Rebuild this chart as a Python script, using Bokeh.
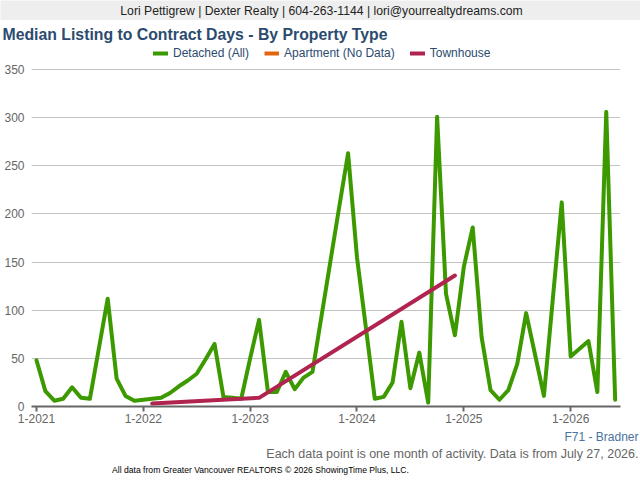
from bokeh.plotting import figure
from bokeh.models import Range1d, FixedTicker, Label, Legend, LegendItem
from bokeh.layouts import column
from bokeh.embed import file_html
from bokeh.resources import INLINE
import pandas as pd

# ---------------- data ----------------
start_month = "2021-01"
detached_days = [48, 16, 6, 8, 20, 9, 8, 60, 112, 29, 11, 6,
                 7, 8, 9, 14, 21, 27, 34, 49, 65, 10, 9, 8,
                 50, 90, 15, 15, 36, 18, 30, 36, 93, 150, 207, 263,
                 155, 82, 8, 10, 25, 88, 19, 56, 4, 301, 117, 74,
                 145, 186, 72, 17, 7, 17, 44, 97, 54, 11, 112, 212,
                 52, 60, 68, 15, 306, 7]
townhouse_months = ["2022-02", "2023-02", "2024-12"]
townhouse_days = [3, 9, 136]
apartment_months = ["2021-01"]          # no data: a single empty value
apartment_days = [float("nan")]
tick_months = ["2021-01", "2022-01", "2023-01", "2024-01", "2025-01", "2026-01"]
tick_labels = ["1-2021", "1-2022", "1-2023", "1-2024", "1-2025", "1-2026"]
y_ticks = [0, 50, 100, 150, 200, 250, 300, 350]

header_text = "Lori Pettigrew | Dexter Realty | 604-263-1144 | lori@yourrealtydreams.com"
title_text = "Median Listing to Contract Days - By Property Type"
area_text = "F71 - Bradner"
note_text = "Each data point is one month of activity. Data is from July 27, 2026."
source_text = "All data from Greater Vancouver REALTORS \u00a9 2026 ShowingTime Plus, LLC."

base = pd.Period(start_month, freq="M")
def midx(s):
    return (pd.Period(s, freq="M") - base).n

det_x = list(range(len(detached_days)))
th_x = [midx(m) for m in townhouse_months]
ap_x = [midx(m) for m in apartment_months]
tick_x = [midx(m) for m in tick_months]

GREEN = "#3c9a00"
ORANGE = "#e2640f"
RED = "#b0244f"
FONT = "Liberation Sans"
W = 640


def text_fig(h, bg="white"):
    f = figure(width=W, height=h, output_backend="svg", toolbar_location=None,
               x_range=Range1d(0, W), y_range=Range1d(h, 0),
               x_axis_location=None, y_axis_location=None,
               min_border=0, min_border_left=0, min_border_right=0,
               min_border_top=0, min_border_bottom=0, frame_align=False)
    f.outline_line_color = None
    f.background_fill_color = bg
    f.border_fill_color = bg
    f.xgrid.visible = False
    f.ygrid.visible = False
    return f


def add_text(f, x, y, text, size, color, align="left", bold=False, font=FONT):
    f.add_layout(Label(x=x, y=y, text=text, text_font=font, text_font_size=size,
                       text_color=color, text_align=align, text_baseline="middle",
                       text_font_style="bold" if bold else "normal"))


# header band (0..20)
header = text_fig(20, "#eeeeee")
add_text(header, 321, 10.5, header_text, "12.2px", "#222222", align="center")

# title (20..46)
title = text_fig(26)
add_text(title, 2, 14, title_text, "15.8px", "#2b4b6f", bold=True)

# ---------------- main chart (46..429) ----------------
MAIN_H = 383
p = figure(width=W, height=MAIN_H, output_backend="svg", toolbar_location=None,
           x_range=Range1d(-0.56, 65.6), y_range=Range1d(0, 373.9),
           min_border_left=31, min_border_right=20, min_border_top=0,
           min_border_bottom=23, frame_align=False)
p.outline_line_color = None
p.background_fill_color = "white"
p.border_fill_color = "white"

r_det = p.line(det_x, detached_days, line_color=GREEN, line_width=4,
               line_join="round", line_cap="round")
r_ap = p.line(ap_x, apartment_days, line_color=ORANGE, line_width=4)
r_th = p.line(th_x, townhouse_days, line_color=RED, line_width=4,
              line_join="round", line_cap="round")

p.xaxis.ticker = FixedTicker(ticks=tick_x)
p.xaxis.major_label_overrides = {t: l for t, l in zip(tick_x, tick_labels)}
p.xaxis.axis_line_color = "#666666"
p.xaxis.axis_line_width = 2
p.xaxis.major_tick_line_color = "#666666"
p.xaxis.major_tick_line_width = 2
p.xaxis.major_tick_out = 5
p.xaxis.major_tick_in = 0
p.xaxis.minor_tick_line_color = None
p.xaxis.major_label_text_color = "#666666"
p.xaxis.major_label_text_font = FONT
p.xaxis.major_label_text_font_size = "12px"
p.xaxis.major_label_standoff = 2
p.xgrid.grid_line_color = None

p.yaxis.ticker = FixedTicker(ticks=y_ticks)
p.yaxis.axis_line_color = None
p.yaxis.major_tick_line_color = None
p.yaxis.minor_tick_line_color = None
p.yaxis.major_tick_out = 0
p.yaxis.major_tick_in = 0
p.yaxis.major_label_text_color = "#666666"
p.yaxis.major_label_text_font = FONT
p.yaxis.major_label_text_font_size = "12px"
p.yaxis.major_label_standoff = 7
p.ygrid.grid_line_color = "#c4c4c4"
p.ygrid.grid_line_width = 1

legend = Legend(items=[LegendItem(label="Detached (All)", renderers=[r_det]),
                       LegendItem(label="Apartment (No Data)", renderers=[r_ap]),
                       LegendItem(label="Townhouse", renderers=[r_th])],
                orientation="horizontal", location=(122, 346),
                glyph_width=15, glyph_height=14, label_height=14,
                label_standoff=5, spacing=15, padding=0, margin=0,
                border_line_color=None, background_fill_alpha=0,
                label_text_font=FONT, label_text_font_size="12px",
                label_text_color="#2b4b6f")
p.add_layout(legend, "center")

# ---------------- footer (429..480) ----------------
footer = text_fig(51)
add_text(footer, 638, 7.5, area_text, "12px", "#4a72a0", align="right")
add_text(footer, 638, 24, note_text, "12.5px", "#666666", align="right")
add_text(footer, 260, 40.5, source_text, "8.6px", "#000000", align="center")

layout = column(header, title, p, footer, spacing=0)
open("out.html", "w").write(file_html(layout, INLINE))
